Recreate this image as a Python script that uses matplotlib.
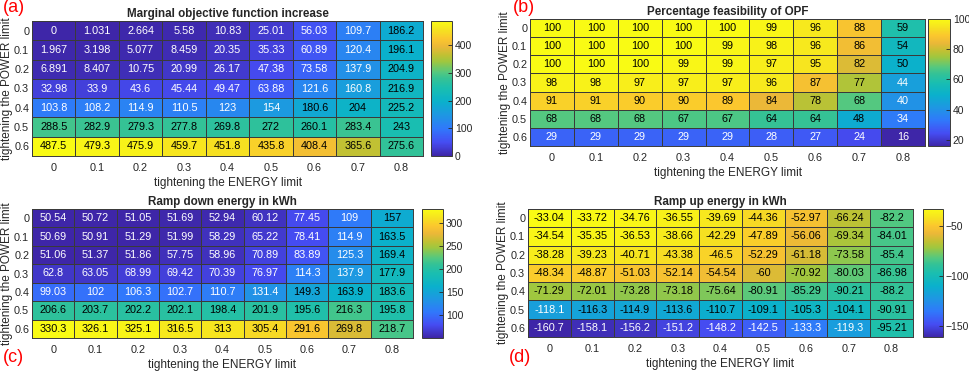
import numpy as np
import matplotlib
matplotlib.use("Agg")
import matplotlib.pyplot as plt
from matplotlib.colors import LinearSegmentedColormap

plt.rcParams['font.family'] = ['Liberation Sans', 'DejaVu Sans']

# data (rows: POWER limit, cols: ENERGY limit)
energy_limits = ["0", "0.1", "0.2", "0.3", "0.4", "0.5", "0.6", "0.7", "0.8"]
power_limits = ["0", "0.1", "0.2", "0.3", "0.4", "0.5", "0.6"]

marginal = [
    [0, 1.031, 2.664, 5.58, 10.83, 25.01, 56.03, 109.7, 186.2],
    [1.967, 3.198, 5.077, 8.459, 20.35, 35.33, 60.89, 120.4, 196.1],
    [6.891, 8.407, 10.75, 20.99, 26.17, 47.38, 73.58, 137.9, 204.9],
    [32.98, 33.9, 43.6, 45.44, 49.47, 63.88, 121.6, 160.8, 216.9],
    [103.8, 108.2, 114.9, 110.5, 123, 154, 180.6, 204, 225.2],
    [288.5, 282.9, 279.3, 277.8, 269.8, 272, 260.1, 283.4, 243],
    [487.5, 479.3, 475.9, 459.7, 451.8, 435.8, 408.4, 365.6, 275.6],
]
feasibility = [
    [100, 100, 100, 100, 100, 99, 96, 88, 59],
    [100, 100, 100, 100, 99, 98, 96, 86, 54],
    [100, 100, 100, 99, 99, 97, 95, 82, 50],
    [98, 98, 97, 97, 97, 96, 87, 77, 44],
    [91, 91, 90, 90, 89, 84, 78, 68, 40],
    [68, 68, 68, 67, 67, 64, 64, 48, 34],
    [29, 29, 29, 29, 29, 28, 27, 24, 16],
]
ramp_down = [
    [50.54, 50.72, 51.05, 51.69, 52.94, 60.12, 77.45, 109, 157],
    [50.69, 50.91, 51.29, 51.99, 58.29, 65.22, 78.41, 114.9, 163.5],
    [51.06, 51.37, 51.86, 57.75, 58.96, 70.89, 83.89, 125.3, 169.4],
    [62.8, 63.05, 68.99, 69.42, 70.39, 76.97, 114.3, 137.9, 177.9],
    [99.03, 102, 106.3, 102.7, 110.7, 131.4, 149.3, 163.9, 183.6],
    [206.6, 203.7, 202.2, 202.1, 198.4, 201.9, 195.6, 216.3, 195.8],
    [330.3, 326.1, 325.1, 316.5, 313, 305.4, 291.6, 269.8, 218.7],
]
ramp_up = [
    [-33.04, -33.72, -34.76, -36.55, -39.69, -44.36, -52.97, -66.24, -82.2],
    [-34.54, -35.35, -36.53, -38.66, -42.29, -47.89, -56.06, -69.34, -84.01],
    [-38.28, -39.23, -40.71, -43.38, -46.5, -52.29, -61.18, -73.58, -85.4],
    [-48.34, -48.87, -51.03, -52.14, -54.54, -60, -70.92, -80.03, -86.98],
    [-71.29, -72.01, -73.28, -73.18, -75.64, -80.91, -85.29, -90.21, -88.2],
    [-118.1, -116.3, -114.9, -113.6, -110.7, -109.1, -105.3, -104.1, -90.91],
    [-160.7, -158.1, -156.2, -151.2, -148.2, -142.5, -133.3, -119.3, -95.21],
]

# approximation of MATLAB's (newer) parula
parula = LinearSegmentedColormap.from_list("parula", [
    (0.00, (0.242, 0.150, 0.660)),
    (0.10, (0.272, 0.300, 0.950)),
    (0.20, (0.190, 0.470, 0.985)),
    (0.30, (0.120, 0.590, 0.890)),
    (0.40, (0.040, 0.690, 0.800)),
    (0.50, (0.100, 0.745, 0.690)),
    (0.57, (0.200, 0.760, 0.590)),
    (0.62, (0.330, 0.785, 0.500)),
    (0.70, (0.620, 0.780, 0.250)),
    (0.75, (0.760, 0.755, 0.200)),
    (0.81, (0.920, 0.720, 0.220)),
    (0.87, (0.985, 0.780, 0.180)),
    (0.93, (0.965, 0.880, 0.130)),
    (1.00, (0.977, 0.984, 0.080))])

W, H = 969, 372
fig = plt.figure(figsize=(W / 100, H / 100), dpi=100)
dark = "#262626"


def px(x0, y0, x1, y1):
    return [x0 / W, 1 - y1 / H, (x1 - x0) / W, (y1 - y0) / H]


def heat(box, cbox, data, title, cticks, letter, lpos):
    data = np.array(data, dtype=float)
    ax = fig.add_axes(px(*box))
    vmin, vmax = data.min(), data.max()
    mesh = ax.pcolormesh(np.arange(len(energy_limits) + 1), np.arange(len(power_limits) + 1), data,
                         cmap=parula, vmin=vmin, vmax=vmax, edgecolors="#3a3a3a", linewidth=0.7)
    ax.set_xlim(0, len(energy_limits))
    ax.set_ylim(len(power_limits), 0)
    for i in range(data.shape[0]):
        for j in range(data.shape[1]):
            v = data[i, j]
            col = "white" if (v - vmin) / (vmax - vmin) < 0.34 else "black"
            ax.text(j + 0.5, i + 0.5, "%.4g" % v, ha="center", va="center", fontsize=7.8, color=col)
    ax.set_xticks(np.arange(len(energy_limits)) + 0.5)
    ax.set_xticklabels(energy_limits)
    ax.set_yticks(np.arange(len(power_limits)) + 0.5)
    ax.set_yticklabels(power_limits)
    ax.tick_params(length=0, labelsize=7.8, colors=dark)
    ax.tick_params(axis="x", pad=5)
    ax.tick_params(axis="y", pad=2)
    for s in ax.spines.values():
        s.set_color("#3a3a3a")
        s.set_linewidth(0.7)
    ax.set_xlabel("tightening the ENERGY limit", fontsize=8.5, color=dark, labelpad=3)
    ax.set_ylabel("tightening the POWER limit", fontsize=8.5, color=dark, labelpad=0.5)
    ax.set_title(title, fontsize=8.4, fontweight="bold", color=dark, pad=3)

    cax = fig.add_axes(px(*cbox))
    cb = fig.colorbar(mesh, cax=cax)
    cb.set_ticks(cticks)
    cb.outline.set_edgecolor("#3a3a3a")
    cb.outline.set_linewidth(0.7)
    cax.tick_params(direction="in", length=3, labelsize=7.5, colors=dark, width=0.6, pad=2)
    fig.text(lpos[0] / W, 1 - lpos[1] / H, letter, color="red", fontsize=13, ha="left", va="center")


heat((32, 21, 423, 156), (431, 21, 452, 156), marginal, "Marginal objective function increase",
     [0, 100, 200, 300, 400], "(a)", (3, 8))
heat((530, 19, 925, 146), (928, 19, 950, 146), feasibility, "Percentage feasibility of OPF",
     [20, 40, 60, 80, 100], "(b)", (513, 8))
heat((32, 209, 413, 338), (422, 209, 443, 338), ramp_down, "Ramp down energy in kWh",
     [100, 150, 200, 250, 300], "(c)", (3, 357))
heat((528, 209, 913, 337), (923, 209, 943, 337), ramp_up, "Ramp up energy in kWh",
     [-150, -100, -50], "(d)", (509, 357))

fig.savefig("out.png", dpi=100)
